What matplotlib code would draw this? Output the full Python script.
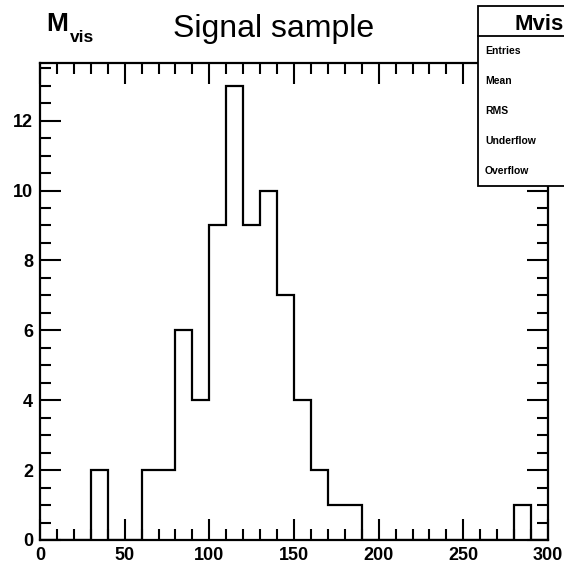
import numpy as np
import matplotlib
matplotlib.use("Agg")
import matplotlib.pyplot as plt
from matplotlib.patches import Rectangle
from matplotlib.lines import Line2D
from matplotlib.ticker import MultipleLocator

# ---- data ----
bin_edges = list(range(0, 310, 10))
counts = [0, 0, 0, 2, 0, 0, 2, 2, 6, 4,
          9, 13, 9, 10, 7, 4, 2, 1, 1, 0,
          0, 0, 0, 0, 0, 0, 0, 0, 1, 0]
title_text = "Signal sample"
stats_name = "Mvis"
stats_labels = ["Entries", "Mean", "RMS", "Underflow", "Overflow"]
x_ticks = [0, 50, 100, 150, 200, 250, 300]
y_ticks = [0, 2, 4, 6, 8, 10, 12]

plt.rcParams['font.family'] = ['Liberation Sans', 'DejaVu Sans']

W, H = 564, 565
fig = plt.figure(figsize=(W / 100, H / 100), dpi=100)

def fx(px):
    return px / W

def fy(py):
    return 1 - py / H

ax_left, ax_right, ax_top, ax_bottom = 40, 548, 63, 540
ax = fig.add_axes([fx(ax_left), fy(ax_bottom), (ax_right - ax_left) / W, (ax_bottom - ax_top) / H])

ax.stairs(counts, bin_edges, color='black', linewidth=1.6, baseline=0)
ax.set_xlim(0, 300)
ax.set_ylim(0, 1.05 * max(counts))

ax.set_xticks(x_ticks)
ax.set_yticks(y_ticks)
ax.xaxis.set_minor_locator(MultipleLocator(10))
ax.yaxis.set_minor_locator(MultipleLocator(0.5))
ax.tick_params(which='both', direction='in', top=True, right=True, width=1.5, color='black')
ax.tick_params(which='major', length=15, labelsize=13, pad=5)
ax.tick_params(which='minor', length=8)
for lab in ax.get_xticklabels() + ax.get_yticklabels():
    lab.set_fontweight('bold')
for sp in ax.spines.values():
    sp.set_linewidth(1.6)

# title and axis-label text
fig.text(fx(173), fy(37), title_text, fontsize=23, ha='left', va='baseline')
fig.text(fx(46), fy(31), "M", fontsize=19, fontweight='bold', ha='left', va='baseline')
fig.text(fx(70), fy(42), "vis", fontsize=12.5, fontweight='bold', ha='left', va='baseline')

# stats box (partly outside the canvas, as in the reference)
box_l, box_t, box_b, box_div = 478, 6, 186, 36
rect = Rectangle((fx(box_l), fy(box_b)), 300 / W, (box_b - box_t) / H,
                 transform=fig.transFigure, facecolor='white', edgecolor='black',
                 linewidth=1.3, zorder=5, clip_on=False)
fig.add_artist(rect)
fig.add_artist(Line2D([fx(box_l), fx(box_l + 300)], [fy(box_div), fy(box_div)],
                      transform=fig.transFigure, color='black', linewidth=1.3, zorder=6))
fig.text(fx(514), fy(30), stats_name, fontsize=16, fontweight='bold',
         ha='left', va='baseline', zorder=7)

row_y = [51, 81, 111, 141, 171]
for lab, y in zip(stats_labels, row_y):
    fig.text(fx(485), fy(y), lab, fontsize=7.5, fontweight='bold', ha='left', va='center', zorder=7)

fig.savefig("out.png", dpi=100)
